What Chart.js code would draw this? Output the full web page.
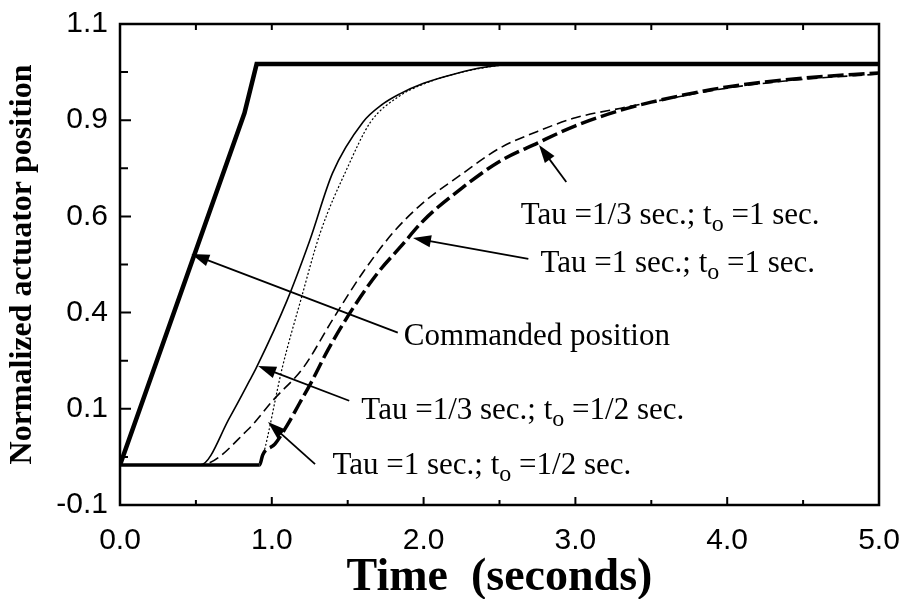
<!DOCTYPE html>
<html>
<head>
<meta charset="utf-8">
<script src="https://cdn.jsdelivr.net/npm/chart.js@4.4.1/dist/chart.umd.min.js"></script>
<style>
  html, body { margin: 0; padding: 0; background: #fff; }
  #wrap { width: 905px; height: 599px; position: relative; }
</style>
</head>
<body>
<div id="wrap"><canvas id="chart"></canvas></div>
<script>
/* ==============================
   DATA
 ============================== */
const xTicks = [0, 1, 2, 3, 4, 5];
const yTicks = [-0.1, 0.14, 0.38, 0.62, 0.86, 1.1];
const yTickLabels = ['-0.1', '0.1', '0.4', '0.6', '0.9', '1.1'];

// Commanded position
const cmdT = [0, 0.82, 0.90, 5.0];
const cmdV = [0, 0.878, 1.0, 1.0];

// Tau = 1/3 sec.; t0 = 1/2 sec.  (thin solid)
const aT = [0, 0.53, 0.725, 0.856, 0.90, 1.10, 1.25, 1.40, 1.60, 1.73, 1.84, 2.00, 2.21, 2.40, 2.60, 5.0];
const aV = [0, 0, 0.12, 0.212, 0.244, 0.41, 0.56, 0.728, 0.855, 0.9, 0.925, 0.952, 0.976, 0.992, 1.0, 1.0];

// Tau = 1 sec.; t0 = 1/2 sec.  (thin dashed)
const bT = [0, 0.53, 0.84, 1.01, 1.21, 1.40, 1.60, 1.80, 2.00, 2.25, 2.50, 2.75, 3.00, 3.30, 3.50, 4.00, 4.50, 5.0];
const bV = [0, 0, 0.087, 0.162, 0.244, 0.362, 0.48, 0.58, 0.655, 0.725, 0.79, 0.832, 0.866, 0.89, 0.905, 0.94, 0.962, 0.975];

// Tau = 1/3 sec.; t0 = 1 sec.  (dotted)
const cT = [0, 0.92, 0.94, 1.07, 1.19, 1.32, 1.50, 1.65, 1.84, 2.00, 2.20, 2.40, 2.60, 5.0];
const cV = [0, 0, 0.02, 0.244, 0.41, 0.58, 0.743, 0.855, 0.92, 0.95, 0.975, 0.991, 1.0, 1.0];

// Tau = 1 sec.; t0 = 1 sec.  (thick dashed)
const dT = [0, 0.92, 0.94, 1.02, 1.10, 1.18, 1.26, 1.37, 1.54, 1.70, 1.85, 2.00, 2.25, 2.50, 2.75, 3.00, 3.30, 3.50, 4.00, 4.50, 5.0];
const dV = [0, 0, 0.025, 0.052, 0.098, 0.152, 0.206, 0.287, 0.394, 0.48, 0.545, 0.61, 0.69, 0.757, 0.803, 0.846, 0.885, 0.905, 0.943, 0.965, 0.978];

// callouts: text pieces [before, subscript, after], text anchor / arrow tip / arrow tail in data units
const notes = [
    { parts: ['Commanded position', '', ''], at: [1.87, 0.32], tip: [0.47, 0.526], tail: [1.83, 0.33] },
    { parts: ['Tau =1/3 sec.; t', 'o', ' =1/2 sec.'], at: [1.59, 0.135], tip: [0.91, 0.247], tail: [1.51, 0.16] },
    { parts: ['Tau =1 sec.; t', 'o', ' =1/2 sec.'], at: [1.40, -0.003], tip: [0.975, 0.107], tail: [1.285, 0.002] },
    { parts: ['Tau =1/3 sec.; t', 'o', ' =1 sec.'], at: [2.64, 0.622], tip: [2.76, 0.798], tail: [2.94, 0.706] },
    { parts: ['Tau =1 sec.; t', 'o', ' =1 sec.'], at: [2.77, 0.502], tip: [1.93, 0.566], tail: [2.69, 0.514] }
];

const toPoints = (ts, vs) => ts.map((t, i) => ({ x: t, y: vs[i] }));
const SERIF = '"Liberation Serif", "Times New Roman", serif';

/* ==============================
   FRAME, INWARD TICKS, CALLOUTS
 ============================== */
const framePlugin = {
    id: 'frame',
    afterDraw(chart) {
        const { ctx, chartArea: a, scales: { x, y } } = chart;
        ctx.save();
        ctx.strokeStyle = '#000';
        ctx.fillStyle = '#000';
        ctx.lineWidth = 2.5;
        ctx.strokeRect(a.left, a.top, a.right - a.left, a.bottom - a.top);

        ctx.lineWidth = 2;
        ctx.beginPath();
        yTicks.forEach((v, i) => {
            const py = y.getPixelForValue(v);
            ctx.moveTo(a.left, py); ctx.lineTo(a.left + 11, py);
            if (i < yTicks.length - 1) {
                const pm = y.getPixelForValue((v + yTicks[i + 1]) / 2);
                ctx.moveTo(a.left, pm); ctx.lineTo(a.left + 8, pm);
            }
        });
        for (let k = 1; k < 10; k++) {
            const px = x.getPixelForValue(k * 0.5);
            ctx.moveTo(px, a.bottom); ctx.lineTo(px, a.bottom - (k % 2 === 0 ? 8 : 5));
            ctx.moveTo(px, a.top); ctx.lineTo(px, a.top + 6);
        }
        ctx.stroke();

        // callouts
        notes.forEach(n => {
            const tx = x.getPixelForValue(n.tip[0]), ty = y.getPixelForValue(n.tip[1]);
            const sx = x.getPixelForValue(n.tail[0]), sy = y.getPixelForValue(n.tail[1]);
            const ang = Math.atan2(ty - sy, tx - sx);
            const len = 18, half = 6;
            ctx.lineWidth = 1.8;
            ctx.beginPath();
            ctx.moveTo(sx, sy);
            ctx.lineTo(tx - Math.cos(ang) * len * 0.8, ty - Math.sin(ang) * len * 0.8);
            ctx.stroke();
            ctx.beginPath();
            ctx.moveTo(tx, ty);
            ctx.lineTo(tx - Math.cos(ang) * len - Math.sin(ang) * half, ty - Math.sin(ang) * len + Math.cos(ang) * half);
            ctx.lineTo(tx - Math.cos(ang) * len + Math.sin(ang) * half, ty - Math.sin(ang) * len - Math.cos(ang) * half);
            ctx.closePath();
            ctx.fill();

            let px = x.getPixelForValue(n.at[0]);
            const py = y.getPixelForValue(n.at[1]);
            ctx.textBaseline = 'middle';
            ctx.textAlign = 'left';
            ctx.font = '31px ' + SERIF;
            ctx.fillText(n.parts[0], px, py);
            px += ctx.measureText(n.parts[0]).width;
            if (n.parts[1]) {
                ctx.font = '24px ' + SERIF;
                ctx.fillText(n.parts[1], px, py + 9);
                px += ctx.measureText(n.parts[1]).width;
                ctx.font = '31px ' + SERIF;
                ctx.fillText(n.parts[2], px, py);
            }
        });
        ctx.restore();
    }
};

/* ==============================
   CHART
 ============================== */
const lineDefaults = { fill: false, pointRadius: 0, borderColor: '#000', cubicInterpolationMode: 'monotone' };

new Chart(document.getElementById('chart').getContext('2d'), {
    type: 'line',
    data: {
        datasets: [
            { ...lineDefaults, label: 'Commanded position', data: toPoints(cmdT, cmdV), borderWidth: 4.5, cubicInterpolationMode: 'default', tension: 0 },
            { ...lineDefaults, label: 'Tau=1/3, t0=1/2', data: toPoints(aT, aV), borderWidth: 1.6 },
            { ...lineDefaults, label: 'Tau=1, t0=1/2', data: toPoints(bT, bV), borderWidth: 1.6, borderDash: [10, 5] },
            { ...lineDefaults, label: 'Tau=1/3, t0=1', data: toPoints(cT, cV), borderWidth: 1.2, borderDash: [2, 2] },
            { ...lineDefaults, label: 'Tau=1, t0=1', data: toPoints(dT, dV), borderWidth: 3.5, borderDash: [16, 5],
              segment: { borderDash: c => (c.p1.parsed.y < 0.001 ? [] : [16, 5]) } }
        ]
    },
    options: {
        responsive: true,
        maintainAspectRatio: false,
        animation: false,
        layout: { padding: { top: 24, right: 26, left: 0, bottom: 0 } },
        plugins: { legend: { display: false }, tooltip: { enabled: false } },
        scales: {
            x: {
                type: 'linear', min: 0, max: 5,
                afterBuildTicks: s => { s.ticks = xTicks.map(v => ({ value: v })); },
                afterFit: s => { s.height = 94; s.paddingLeft = 0; s.paddingRight = 0; },
                grid: { display: false, drawTicks: false },
                border: { display: false },
                ticks: { autoSkip: false, maxRotation: 0, padding: 18, color: '#000',
                         font: { family: '"Liberation Sans", Arial, sans-serif', size: 30 },
                         callback: v => v.toFixed(1) },
                title: { display: true, text: 'Time  (seconds)', color: '#000', padding: { top: 0, bottom: -7 },
                         font: { family: SERIF, size: 46, weight: 'bold' } }
            },
            y: {
                min: -0.1, max: 1.1,
                afterBuildTicks: s => { s.ticks = yTicks.map(v => ({ value: v })); },
                afterFit: s => { s.width = 120; s.paddingTop = 0; s.paddingBottom = 0; },
                grid: { display: false, drawTicks: false },
                border: { display: false },
                ticks: { autoSkip: false, padding: 12, color: '#000',
                         font: { family: '"Liberation Sans", Arial, sans-serif', size: 30 },
                         callback: (v, i) => yTickLabels[i] },
                title: { display: true, text: 'Normalized actuator position', color: '#000', padding: { top: 4, bottom: 0 },
                         font: { family: SERIF, size: 32, weight: 'bold' } }
            }
        }
    },
    plugins: [framePlugin]
});
</script>
</body>
</html>
